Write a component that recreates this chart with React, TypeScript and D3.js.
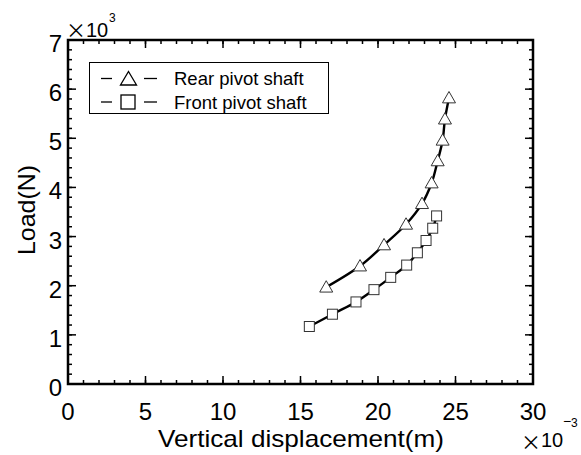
import React from "react";
import * as d3 from "d3";

const rearX = [16.66, 18.84, 20.39, 21.81, 22.84, 23.46, 23.85, 24.17, 24.32, 24.58];
const rearY = [1970, 2400, 2830, 3250, 3670, 4090, 4540, 4960, 5390, 5820];
const frontX = [15.57, 17.06, 18.58, 19.74, 20.82, 21.85, 22.54, 23.1, 23.53, 23.78];
const frontY = [1170, 1420, 1670, 1920, 2170, 2420, 2670, 2920, 3170, 3420];
const xTicks = [0, 5, 10, 15, 20, 25, 30];
const yTicks = [0, 1000, 2000, 3000, 4000, 5000, 6000, 7000];
const legendLabels = ["Rear pivot shaft", "Front pivot shaft"];

const W = 581, H = 455;
const L = 68, R = 533, T = 40, B = 384;
const FONT = "'Liberation Sans', Arial, sans-serif";
const XFONT = "'Noto Sans CJK JP', sans-serif";

export default function App() {
  const x = d3.scaleLinear().domain([0, 30]).range([L, R]);
  const y = d3.scaleLinear().domain([0, 7000]).range([B, T]);
  const line = d3.line<[number, number]>().x(d => x(d[0])).y(d => y(d[1])).curve(d3.curveCatmullRom);
  const rear: [number, number][] = rearX.map((v, i) => [v, rearY[i]]);
  const front: [number, number][] = frontX.map((v, i) => [v, frontY[i]]);
  const xMinor = d3.range(0, 30.01, 1);
  const yMinor = d3.range(0, 7001, 200);
  const tri = (cx: number, cy: number, s = 6.5) =>
    `M${cx},${cy - s} L${cx + s},${cy + s * 0.75} L${cx - s},${cy + s * 0.75} Z`;
  return (
    <svg width={W} height={H} style={{ position: "absolute", left: 0, top: 0, background: "#fff" }}>
      <rect width={W} height={H} fill="#fff" />
      {xMinor.map(v => (
        <g key={"xm" + v}>
          <line x1={x(v)} x2={x(v)} y1={B} y2={B - 4} stroke="#000" strokeWidth={1.5} />
          <line x1={x(v)} x2={x(v)} y1={T} y2={T + 4} stroke="#000" strokeWidth={1.5} />
        </g>
      ))}
      {yMinor.map(v => (
        <g key={"ym" + v}>
          <line x1={L} x2={L + 4} y1={y(v)} y2={y(v)} stroke="#000" strokeWidth={1.5} />
          <line x1={R} x2={R - 4} y1={y(v)} y2={y(v)} stroke="#000" strokeWidth={1.5} />
        </g>
      ))}
      {xTicks.map(v => (
        <g key={"xt" + v}>
          <line x1={x(v)} x2={x(v)} y1={B} y2={B - 8} stroke="#000" strokeWidth={1.5} />
          <line x1={x(v)} x2={x(v)} y1={T} y2={T + 8} stroke="#000" strokeWidth={1.5} />
          <text x={x(v)} y={B + 36} textAnchor="middle" fontFamily={FONT} fontSize={24}>{v}</text>
        </g>
      ))}
      {yTicks.map(v => (
        <g key={"yt" + v}>
          <line x1={L} x2={L + 8} y1={y(v)} y2={y(v)} stroke="#000" strokeWidth={1.5} />
          <line x1={R} x2={R - 8} y1={y(v)} y2={y(v)} stroke="#000" strokeWidth={1.5} />
          <text x={L - 6} y={y(v) + 12} textAnchor="end" fontFamily={FONT} fontSize={24}>{v / 1000}</text>
        </g>
      ))}
      <rect x={L} y={T} width={R - L} height={B - T} fill="none" stroke="#000" strokeWidth={2.5} />
      <path d={line(rear) || ""} fill="none" stroke="#000" strokeWidth={2.4} />
      <path d={line(front) || ""} fill="none" stroke="#000" strokeWidth={2.4} />
      {rear.map((d, i) => (
        <path key={"r" + i} d={tri(x(d[0]), y(d[1]))} fill="#fff" stroke="#333" strokeWidth={1} />
      ))}
      {front.map((d, i) => (
        <rect key={"f" + i} x={x(d[0]) - 5} y={y(d[1]) - 5} width={10} height={10} fill="#fff" stroke="#333" strokeWidth={1} />
      ))}
      <rect x={89.5} y={62.5} width={239} height={51} fill="#fff" stroke="#000" strokeWidth={1} />
      {legendLabels.map((lab, i) => {
        const cy = 78.5 + i * 23.5;
        return (
          <g key={lab}>
            <line x1={101} x2={112} y1={cy} y2={cy} stroke="#000" strokeWidth={1.3} />
            <line x1={144} x2={157} y1={cy} y2={cy} stroke="#000" strokeWidth={1.3} />
            {i === 0 ? (
              <path d={`M128.5,${cy - 7} L136.5,${cy + 6.5} L120.5,${cy + 6.5} Z`} fill="#fff" stroke="#000" strokeWidth={1.3} />
            ) : (
              <rect x={121} y={cy - 7} width={14} height={14} fill="#fff" stroke="#000" strokeWidth={1.3} />
            )}
            <text x={174} y={cy + 6.5} fontFamily={FONT} fontSize={18.5}>{lab}</text>
          </g>
        );
      })}
      <text x={66} y={38} fontFamily={XFONT} fontSize={20}>×</text>
      <text x={86} y={36.5} fontFamily={FONT} fontSize={20}>10</text>
      <text x={109} y={21.5} fontFamily={FONT} fontSize={12}>3</text>
      <text x={521} y={450} fontFamily={XFONT} fontSize={20}>×</text>
      <text x={541} y={446.5} fontFamily={FONT} fontSize={20}>10</text>
      <text x={563} y={426} fontFamily={FONT} fontSize={14}>−</text>
      <text x={571} y={427} fontFamily={FONT} fontSize={12}>3</text>
      <text x={158} y={447} textLength={286} lengthAdjust="spacingAndGlyphs" fontFamily={FONT} fontSize={24}>Vertical displacement(m)</text>
      <text transform={`translate(35,210) rotate(-90)`} textAnchor="middle" textLength={90} lengthAdjust="spacingAndGlyphs" fontFamily={FONT} fontSize={24}>Load(N)</text>
    </svg>
  );
}
